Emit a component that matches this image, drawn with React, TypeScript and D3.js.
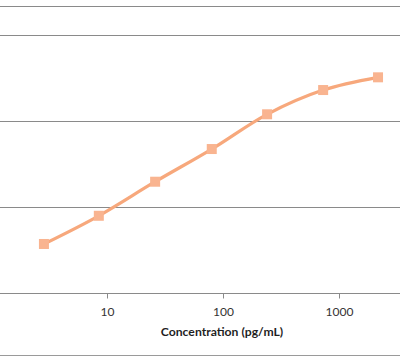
import React, { useEffect, useRef } from 'react';
import * as d3 from 'd3';

// standard curve
const concentrations = [2.86, 8.5, 26, 80, 240, 730, 2170];
const odValues = [0.285, 0.449, 0.647, 0.837, 1.039, 1.18, 1.254];
const xTickValues = [10, 100, 1000];
const yGridValues = [0.5, 1, 1.5];
const xTitle = 'Concentration (pg/mL)';

const W = 400;
const H = 362;

export default function App() {
    const ref = useRef<SVGSVGElement>(null);

    useEffect(() => {
        const svg = d3.select(ref.current);
        svg.selectAll('*').remove();

        const x = d3.scaleLog().domain([10, 1000]).range([107, 339]);
        const y = d3.scaleLinear().domain([0, 1.5]).range([293, 35]);

        const grid = '#8a8a8a';

        // frame lines top and bottom
        svg.append('line')
            .attr('x1', 0).attr('x2', W)
            .attr('y1', 6.5).attr('y2', 6.5)
            .attr('stroke', grid).attr('stroke-width', 1);
        svg.append('line')
            .attr('x1', 0).attr('x2', W)
            .attr('y1', 355.5).attr('y2', 355.5)
            .attr('stroke', '#9a9a9a').attr('stroke-width', 1);

        svg.selectAll('.grid')
            .data(yGridValues)
            .enter()
            .append('line')
            .attr('class', 'grid')
            .attr('x1', 0).attr('x2', W)
            .attr('y1', d => Math.round(y(d)) + 0.5)
            .attr('y2', d => Math.round(y(d)) + 0.5)
            .attr('stroke', grid).attr('stroke-width', 1);

        // x axis
        const axisY = Math.round(y(0)) + 0.5;
        svg.append('line')
            .attr('x1', 0).attr('x2', W)
            .attr('y1', axisY).attr('y2', axisY)
            .attr('stroke', grid).attr('stroke-width', 1);

        const ticks = svg.selectAll('.tick')
            .data(xTickValues)
            .enter()
            .append('g')
            .attr('class', 'tick')
            .attr('transform', d => 'translate(' + (Math.round(x(d)) + 0.5) + ',' + axisY + ')');
        ticks.append('line')
            .attr('y1', 0).attr('y2', 5)
            .attr('stroke', grid);
        ticks.append('text')
            .attr('y', 22)
            .attr('text-anchor', 'middle')
            .attr('font-family', 'Lato, sans-serif')
            .attr('font-size', 12)
            .attr('fill', '#333')
            .text(d => String(d));

        svg.append('text')
            .attr('x', 222)
            .attr('y', 336)
            .attr('text-anchor', 'middle')
            .attr('font-family', 'Lato, sans-serif')
            .attr('font-weight', 'bold')
            .attr('font-size', 12.2)
            .attr('fill', '#1f1f1f')
            .text(xTitle);

        const pts: [number, number][] = concentrations.map((c, i) => [x(c), y(odValues[i])]);

        const line = d3.line().curve(d3.curveCatmullRom.alpha(0.5));
        svg.append('path')
            .attr('d', line(pts))
            .attr('fill', 'none')
            .attr('stroke', '#f7a87c')
            .attr('stroke-width', 3.2)
            .attr('stroke-linecap', 'round');

        const size = 10;
        svg.selectAll('.marker')
            .data(pts)
            .enter()
            .append('rect')
            .attr('class', 'marker')
            .attr('x', d => d[0] - size / 2)
            .attr('y', d => d[1] - size / 2)
            .attr('width', size)
            .attr('height', size)
            .attr('fill', '#f9b490');
    }, []);

    return (
        <svg ref={ref} width={W} height={H}
            style={{ position: 'absolute', left: 0, top: 0, background: '#fff' }} />
    );
}
